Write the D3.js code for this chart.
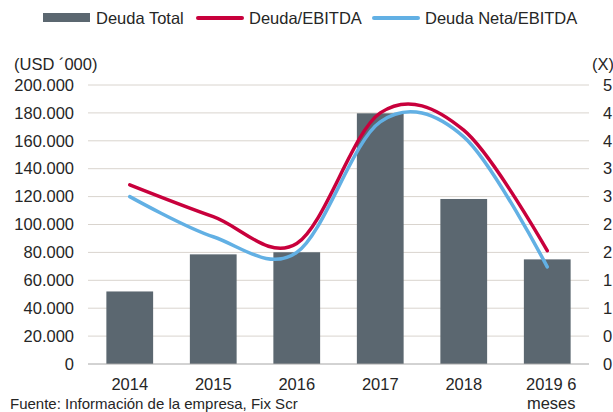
<!DOCTYPE html>
<html>
<head>
<meta charset="utf-8">
<script src="https://cdn.jsdelivr.net/npm/d3@7"></script>
<style>
  body { margin: 0; background: #fff; }
  svg { display: block; font-family: 'Liberation Sans', Arial, sans-serif; }
</style>
</head>
<body>
<div id="chart"></div>
<script>
const categories = ['2014', '2015', '2016', '2017', '2018', '2019 6 meses'];
const deudaTotal = [52000, 78600, 80100, 179700, 118300, 75000];
const deudaEbitda = [3.21, 2.64, 2.16, 4.5, 4.19, 2.03];
const deudaNetaEbitda = [3.0, 2.28, 2.0, 4.34, 4.07, 1.74];
const leftTicks = [0, 20000, 40000, 60000, 80000, 100000, 120000, 140000, 160000, 180000, 200000];
const rightTicks = [0, 0.5, 1, 1.5, 2, 2.5, 3, 3.5, 4, 4.5, 5];

const width = 613,
  height = 412,
  plotLeft = 88,
  plotRight = 589,
  plotTop = 85,
  plotBottom = 364,
  fontSize = 16.5;

const barColor = '#5b6770',
  redColor = '#c8003c',
  blueColor = '#62b0e4',
  textColor = '#262626';

const locale = d3.formatLocale({ decimal: ',', thousands: '.', grouping: [3], currency: ['', ''] });
const fmt = locale.format(',d');

const svg = d3
  .select('#chart')
  .append('svg')
  .attr('width', width)
  .attr('height', height);

const x = d3
  .scaleBand()
  .domain(categories)
  .range([plotLeft, plotRight])
  .paddingInner(0.44)
  .paddingOuter(0.22);

const y = d3.scaleLinear().domain([0, 200000]).range([plotBottom, plotTop]);
const y2 = d3.scaleLinear().domain([0, 5]).range([plotBottom, plotTop]);

// gridlines
svg
  .append('g')
  .selectAll('line')
  .data(leftTicks.slice(1))
  .enter()
  .append('line')
  .attr('x1', plotLeft)
  .attr('x2', plotRight)
  .attr('y1', (d) => y(d))
  .attr('y2', (d) => y(d))
  .attr('stroke', '#d9d4ce')
  .attr('stroke-width', 1);

// bars
svg
  .append('g')
  .selectAll('rect')
  .data(deudaTotal)
  .enter()
  .append('rect')
  .attr('x', (d, i) => x(categories[i]))
  .attr('y', (d) => y(d))
  .attr('width', x.bandwidth())
  .attr('height', (d) => y(0) - y(d))
  .attr('fill', barColor);

// baseline
svg
  .append('line')
  .attr('x1', plotLeft)
  .attr('x2', plotRight)
  .attr('y1', y(0))
  .attr('y2', y(0))
  .attr('stroke', '#a6a6a6')
  .attr('stroke-width', 1);

const line = d3
  .line()
  .x((d, i) => x(categories[i]) + x.bandwidth() / 2)
  .y((d) => y2(d))
  .curve(d3.curveCatmullRom.alpha(0));

svg
  .append('path')
  .datum(deudaNetaEbitda)
  .attr('d', line)
  .attr('fill', 'none')
  .attr('stroke', blueColor)
  .attr('stroke-width', 3.5)
  .attr('stroke-linecap', 'round');

svg
  .append('path')
  .datum(deudaEbitda)
  .attr('d', line)
  .attr('fill', 'none')
  .attr('stroke', redColor)
  .attr('stroke-width', 3.5)
  .attr('stroke-linecap', 'round');

// left axis
const yAxis = d3.axisLeft(y).tickValues(leftTicks).tickFormat(fmt).tickSize(0).tickPadding(14);
const gy = svg.append('g').attr('transform', `translate(${plotLeft},0)`).call(yAxis);
gy.select('.domain').remove();
gy.selectAll('text').attr('font-size', fontSize).attr('fill', textColor);
gy.attr('font-family', null).attr('font-size', null);

// right axis
const y2Axis = d3.axisRight(y2).tickValues(rightTicks).tickFormat((d) => Math.floor(d)).tickSize(0).tickPadding(14);
const gy2 = svg.append('g').attr('transform', `translate(${plotRight},0)`).call(y2Axis);
gy2.select('.domain').remove();
gy2.selectAll('text').attr('font-size', fontSize).attr('fill', textColor);
gy2.attr('font-family', null).attr('font-size', null);

// x axis labels (wrapped)
const gx = svg.append('g').attr('transform', `translate(0,${plotBottom})`);
const xl = gx
  .selectAll('text')
  .data(categories)
  .enter()
  .append('text')
  .attr('x', (d) => x(d) + x.bandwidth() / 2)
  .attr('y', 26)
  .attr('text-anchor', 'middle')
  .attr('font-size', fontSize)
  .attr('fill', textColor);
xl.each(function (d) {
  const parts = d === '2019 6 meses' ? ['2019 6', 'meses'] : [d];
  parts.forEach((p, k) => {
    d3.select(this)
      .append('tspan')
      .attr('x', x(d) + x.bandwidth() / 2 + (parts.length > 1 ? 4 : 0))
      .attr('dy', k ? 18.5 : 0)
      .text(p);
  });
});

// axis titles
svg.append('text').attr('x', 14).attr('y', 70).attr('font-size', fontSize).attr('fill', textColor).text('(USD ´000)');
svg.append('text').attr('x', 592).attr('y', 70).attr('font-size', fontSize).attr('fill', textColor).text('(X)');

// source
svg
  .append('text')
  .attr('x', 10)
  .attr('y', 408.5)
  .attr('font-size', 15)
  .attr('fill', textColor)
  .text('Fuente: Información de la empresa, Fix Scr');

// legend
const legendItems = [
  { name: 'Deuda Total', type: 'bar', color: barColor, x: 43 },
  { name: 'Deuda/EBITDA', type: 'line', color: redColor, x: 196 },
  { name: 'Deuda Neta/EBITDA', type: 'line', color: blueColor, x: 372 },
];
const legend = svg.append('g');
legendItems.forEach((item) => {
  if (item.type === 'bar') {
    legend.append('rect').attr('x', item.x).attr('y', 13).attr('width', 47).attr('height', 9).attr('fill', item.color);
  } else {
    legend
      .append('line')
      .attr('x1', item.x + 2)
      .attr('x2', item.x + 46)
      .attr('y1', 18)
      .attr('y2', 18)
      .attr('stroke', item.color)
      .attr('stroke-width', 4)
      .attr('stroke-linecap', 'round');
  }
  legend
    .append('text')
    .attr('x', item.x + 53)
    .attr('y', 24)
    .attr('font-size', fontSize)
    .attr('fill', textColor)
    .text(item.name);
});
</script>
</body>
</html>
